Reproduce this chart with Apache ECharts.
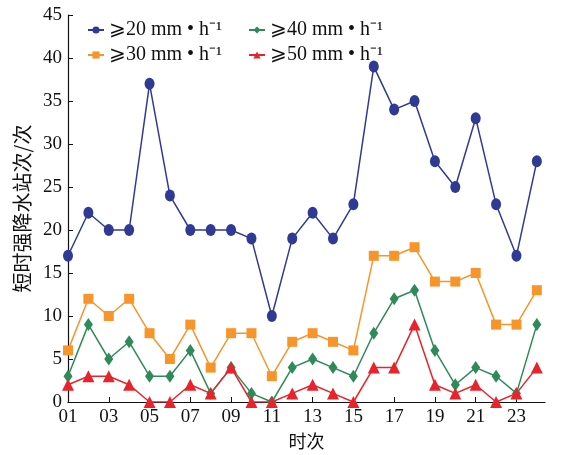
<!DOCTYPE html>
<html lang="zh">
<head>
<meta charset="utf-8">
<script src="https://cdn.jsdelivr.net/npm/echarts@6/dist/echarts.min.js"></script>
<style>
    html,body{margin:0;padding:0;background:#fff;}
    #chart{width:562px;height:455px;}
</style>
</head>
<body>
<div id="chart"></div>
<script>
    // 时次 01-24
    var hours = [1,2,3,4,5,6,7,8,9,10,11,12,13,14,15,16,17,18,19,20,21,22,23,24];
    var tickHours = [1,3,5,7,9,11,13,15,17,19,21,23];
    var yTicks = [0,5,10,15,20,25,30,35,40,45];

    var s20 = [17,22,20,20,37,24,20,20,20,19,10,19,22,19,23,39,34,35,28,25,33,23,17,28];
    var s30 = [6,12,10,12,8,5,9,4,8,8,3,7,8,7,6,17,17,18,14,14,15,9,9,13];
    var s40 = [3,9,5,7,3,3,6,1,4,1,0,4,5,4,3,8,12,13,6,2,4,3,1,9];
    var s50 = [2,3,3,2,0,0,2,1,4,0,0,1,2,1,0,4,4,9,2,1,2,0,1,4];

    var names = ['⩾20 mm • h⁻¹', '⩾30 mm • h⁻¹', '⩾40 mm • h⁻¹', '⩾50 mm • h⁻¹'];

    function pairs(arr){
        return hours.map(function(h, i){ return [h, arr[i]]; });
    }

    var serif = 'Liberation Serif';
    var chart = echarts.init(document.getElementById('chart'));

    function line(name, data, color, symbol, size){
        return {
            name: name,
            type: 'line',
            data: pairs(data),
            symbol: symbol,
            symbolSize: size,
            itemStyle: {color: color},
            lineStyle: {color: color, width: 1.5},
            animation: false
        };
    }

    var legendText = {fontFamily: serif, fontSize: 20, color: '#111'};

    chart.setOption({
        grid: {left: 68, right: 17, top: 15, bottom: 53},
        legend: [
            {
                data: [names[0], names[1]],
                orient: 'vertical',
                left: 82, top: 15,
                itemGap: 5,
                itemWidth: 16, itemHeight: 9,
                textStyle: legendText
            },
            {
                data: [names[2], names[3]],
                orient: 'vertical',
                left: 243, top: 15,
                itemGap: 5,
                itemWidth: 16, itemHeight: 9,
                textStyle: legendText
            }
        ],
        xAxis: {
            type: 'value',
            min: 1,
            max: 24.4,
            name: '时次',
            nameLocation: 'middle',
            nameGap: 30,
            nameTextStyle: {fontFamily: 'Noto Sans CJK SC', fontSize: 18, color: '#111'},
            axisLine: {lineStyle: {color: '#111', width: 1.2}},
            axisTick: {inside: true, length: 5, customValues: tickHours, lineStyle: {color: '#111'}},
            axisLabel: {
                customValues: tickHours,
                fontFamily: serif, fontSize: 19, color: '#111', margin: 6,
                formatter: function(v){ return (v < 10 ? '0' : '') + v; }
            },
            splitLine: {show: false}
        },
        yAxis: {
            type: 'value',
            min: 0,
            max: 45,
            interval: 5,
            name: '短时强降水站次/次',
            nameLocation: 'middle',
            nameGap: 28,
            nameTextStyle: {fontFamily: 'Noto Sans CJK SC', fontSize: 20, color: '#111'},
            axisLine: {show: true, lineStyle: {color: '#111', width: 1.2}},
            axisTick: {show: true, inside: true, length: 5, lineStyle: {color: '#111'}},
            axisLabel: {
                customValues: yTicks,
                fontFamily: serif, fontSize: 19, color: '#111', margin: 6
            },
            splitLine: {show: false}
        },
        series: [
            line(names[0], s20, '#2e3a94', 'circle', [10, 12]),
            line(names[1], s30, '#f7952b', 'rect', 10),
            line(names[2], s40, '#2e8a58', 'diamond', [9, 13]),
            line(names[3], s50, '#e8232b', 'triangle', 12)
        ]
    });
</script>
</body>
</html>
